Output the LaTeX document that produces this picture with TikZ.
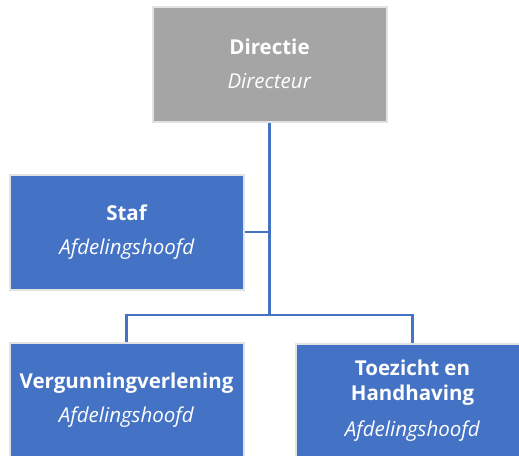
\documentclass[tikz,border=0pt]{standalone}
\usepackage{fontspec}
\setmainfont{Open Sans}
\usepackage{xcolor}
\usepackage{tikz}
\usetikzlibrary{positioning,calc}
\tikzset{
	unit/.style ={rectangle, draw=orgrim, line width=2pt, fill=orgblue, text=white, align=center,
		minimum width=234pt, minimum height=115pt, font=\fontsize{20.5}{25}\selectfont},
	headunit/.style = {unit, fill=orggray},
	link/.style = {draw=orgblue, line width=2.4pt}
}
\definecolor{orgblue}{RGB}{68, 114, 196}
\definecolor{orggray}{RGB}{165, 165, 165}
\definecolor{orgrim}{RGB}{226, 226, 226}

\begin{document}
\begin{tikzpicture}[x=1pt,y=1pt]
    \useasboundingbox (0,0) rectangle (519,-455);
    \clip (0,0) rectangle (519,-455);
    \node[headunit] (dir) at (269.5,-64) {\textbf{Directie}\\[9pt]\textit{Directeur}};
    \node[unit] (staf) at (127,-232) {\textbf{Staf}\\[9pt]\textit{Afdelingshoofd}};

    \node[unit] (verg) at (126.5,-400) {\textbf{Vergunningverlening}\\[9pt]\textit{Afdelingshoofd}};
    \node[unit] (toez) at (412.5,-401) {\textbf{Toezicht en}\\\textbf{Handhaving}\\[11pt]\textit{Afdelingshoofd}};

    \coordinate (hub) at (dir.south |- 0,-315);
    \path[link] (dir.south) -- (hub);
    \path[link] (staf.east) -- (staf.east -| dir.south);
    \path[link] (verg.north) |- (hub) -| (toez.north);
\end{tikzpicture}
\end{document}
